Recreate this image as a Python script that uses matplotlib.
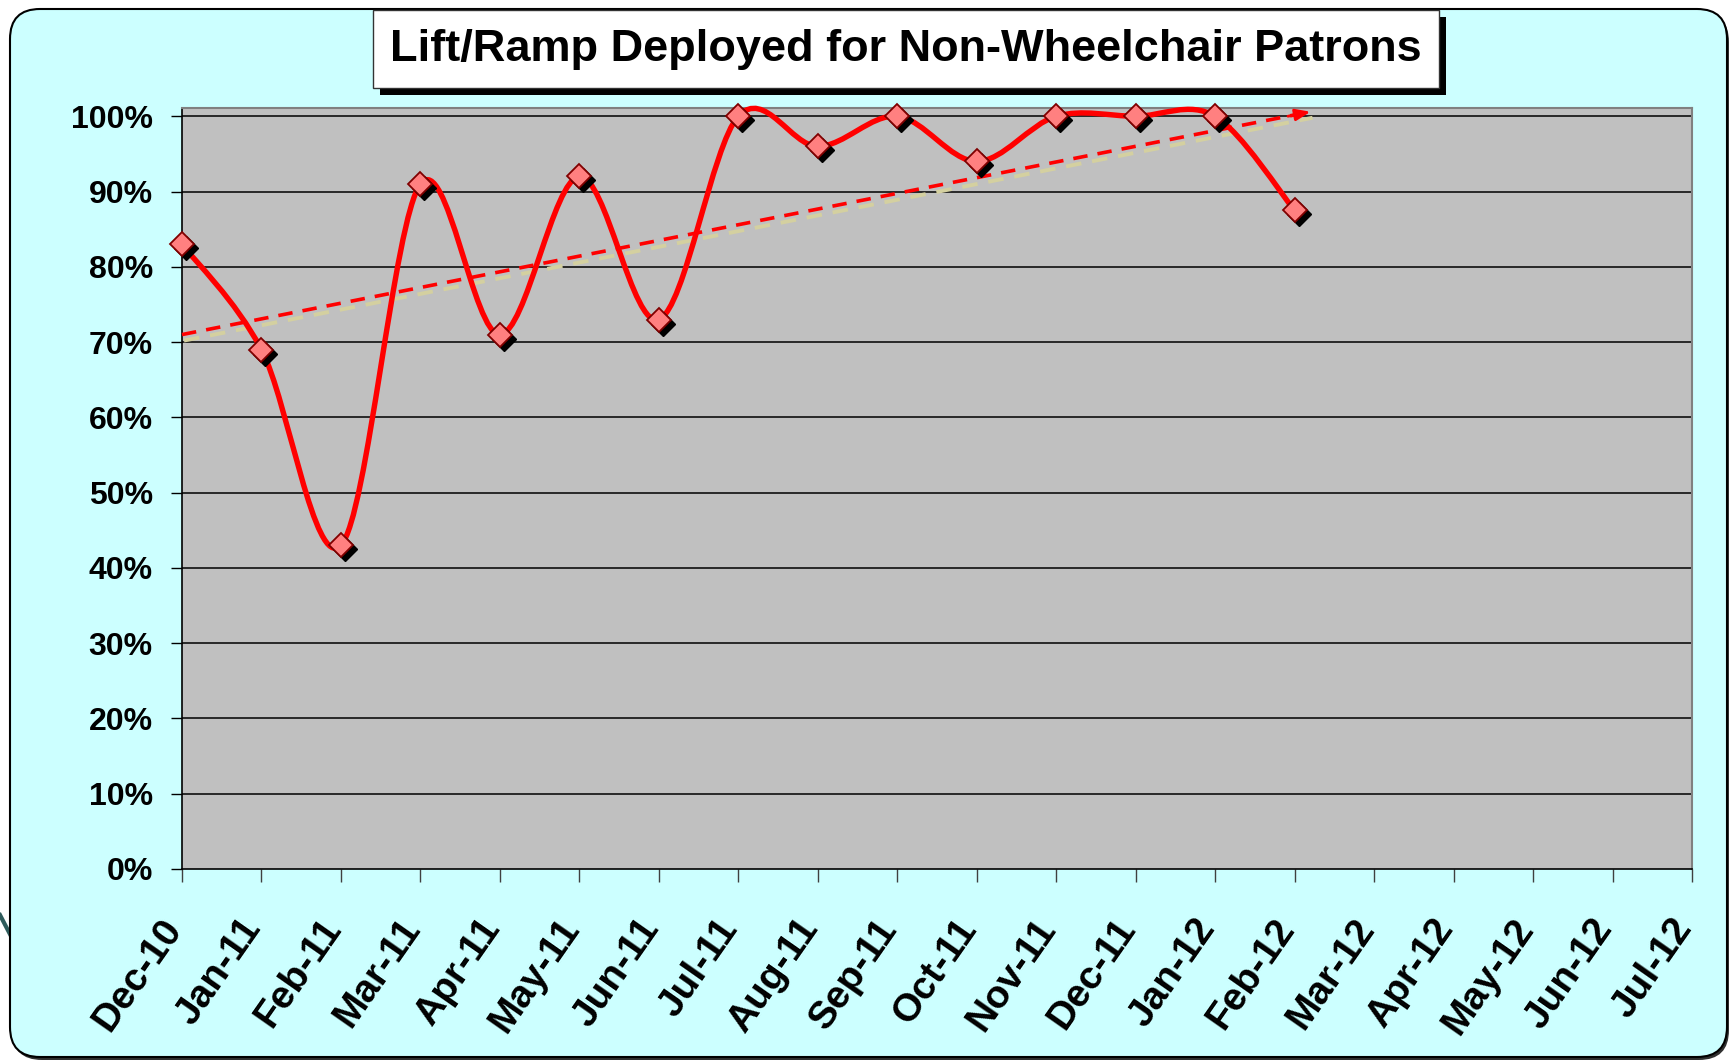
import numpy as np
import matplotlib
matplotlib.use("Agg")
import matplotlib.pyplot as plt
from matplotlib.path import Path
from matplotlib.patches import PathPatch, FancyBboxPatch, Rectangle
from matplotlib.lines import Line2D
import matplotlib.transforms as mtransforms

# ---- data ----
months = ["Dec-10", "Jan-11", "Feb-11", "Mar-11", "Apr-11", "May-11", "Jun-11",
          "Jul-11", "Aug-11", "Sep-11", "Oct-11", "Nov-11", "Dec-11", "Jan-12",
          "Feb-12", "Mar-12", "Apr-12", "May-12", "Jun-12", "Jul-12"]
pct_deployed = [83, 69, 43, 91, 71, 92, 73, 100, 96, 100, 94, 100, 100, 100, 87.5]
trend_pos = [0, 14.2]
trend_pct = [71, 100.6]
y_ticks = [0, 10, 20, 30, 40, 50, 60, 70, 80, 90, 100]
title = "Lift/Ramp Deployed for Non-Wheelchair Patrons"

FONT = ["Liberation Sans", "DejaVu Sans"]
W, H = 1729, 1061
fig = plt.figure(figsize=(W / 100, H / 100), dpi=100)
fig.patch.set_facecolor("white")
px = fig.dpi_scale_trans  # inches; 1 px = 0.01 in


def P(x, y_top):
    """pixel position measured from the top-left corner -> inches"""
    return x / 100, (H - y_top) / 100


# stray connector peeking from behind the panel
fig.add_artist(Line2D([0.0, 0.13], [(H - 915) / 100, (H - 940) / 100],
                      transform=px, color="#2f5c5c", lw=3, zorder=0))

# rounded cyan background panel with a soft shadow
shadow = FancyBboxPatch(P(12, 1060), 17.17, 10.48,
                        boxstyle="round,pad=0,rounding_size=0.3",
                        transform=px, facecolor="#303030", edgecolor="none", zorder=1)
panel = FancyBboxPatch(P(10, 1057), 17.17, 10.48,
                       boxstyle="round,pad=0,rounding_size=0.3",
                       transform=px, facecolor="#ccffff", edgecolor="black",
                       lw=1.5, zorder=2)
fig.add_artist(shadow)
fig.add_artist(panel)

# title box with drop shadow
tb_x, tb_top, tb_w, tb_h = 373, 10, 1066, 78
fig.add_artist(Rectangle(P(tb_x + 7, tb_top + tb_h + 7), tb_w / 100, tb_h / 100,
                         transform=px, facecolor="black", edgecolor="none", zorder=3))
fig.add_artist(Rectangle(P(tb_x, tb_top + tb_h), tb_w / 100, tb_h / 100,
                         transform=px, facecolor="white", edgecolor="#333333",
                         lw=1, zorder=4))
fig.text((tb_x + tb_w / 2) / W, 1 - (tb_top + tb_h / 2 + 1) / H, title,
         ha="center", va="center", fontsize=32.5, fontweight="bold",
         family=FONT, zorder=5)

# ---- plot area ----
ax = fig.add_axes([182 / W, 192 / H, 1510 / W, 761 / H])
ax.set_zorder(6)
ax.set_facecolor("#c0c0c0")
ax.set_xlim(0, len(months) - 1)
ax.set_ylim(0, 101.1)

ax.set_yticks(y_ticks)
ax.set_yticklabels([f"{v}%" for v in y_ticks])
ax.set_xticks(range(len(months)))
ax.set_xticklabels(months)
for v in y_ticks[1:]:
    ax.axhline(v, color="black", lw=1.1, zorder=1)

for s in ("top", "right"):
    ax.spines[s].set_color("#808080")
    ax.spines[s].set_linewidth(1.5)
for s in ("left", "bottom"):
    ax.spines[s].set_color("black")
    ax.spines[s].set_linewidth(1.2)

ax.tick_params(axis="y", length=8, width=1, color="black", pad=13,
               labelsize=23, direction="out")
ax.tick_params(axis="x", length=9, width=1, color="#404040", pad=22,
               labelsize=28, direction="out")
for lab in ax.get_yticklabels():
    lab.set_fontweight("bold")
    lab.set_family(FONT)
shift = mtransforms.ScaledTranslation(-22 / 100, 0, fig.dpi_scale_trans)
for lab in ax.get_xticklabels():
    lab.set_fontweight("bold")
    lab.set_family(FONT)
    lab.set_rotation(55)
    lab.set_ha("right")
    lab.set_va("top")
    lab.set_rotation_mode("anchor")
    lab.set_transform(lab.get_transform() + shift)

# ---- trend arrow (dashed, with pale shadow) ----
sh_tr = mtransforms.offset_copy(ax.transData, fig=fig, x=2, y=-6, units="dots")
ax.plot(trend_pos, trend_pct, color="#d4d0a0", lw=2.8, ls=(0, (4, 2.8)),
        transform=sh_tr, zorder=3, clip_on=False)
ax.plot(trend_pos, trend_pct, color="red", lw=2.6, ls=(0, (4, 2.8)),
        zorder=4, clip_on=False)
dx = trend_pos[1] - trend_pos[0]
dy = trend_pct[1] - trend_pct[0]
ax.annotate("", xy=(trend_pos[1], trend_pct[1]),
            xytext=(trend_pos[1] - 0.02 * dx, trend_pct[1] - 0.02 * dy),
            arrowprops=dict(arrowstyle="-|>,head_length=0.9,head_width=0.35",
                            color="red", lw=2, shrinkA=0, shrinkB=0),
            zorder=4, annotation_clip=False)

# ---- smoothed series line (cubic Bezier through every point) ----
xs = np.arange(len(pct_deployed), dtype=float)
ys = np.asarray(pct_deployed, dtype=float)
pts = np.column_stack([xs, ys])
verts = [pts[0]]
codes = [Path.MOVETO]
n = len(pts)
for i in range(n - 1):
    p0 = pts[i - 1] if i > 0 else pts[i]
    p1, p2 = pts[i], pts[i + 1]
    p3 = pts[i + 2] if i + 2 < n else pts[i + 1]
    verts += [p1 + (p2 - p0) / 6, p2 - (p3 - p1) / 6, p2]
    codes += [Path.CURVE4] * 3
ax.add_patch(PathPatch(Path(verts, codes), facecolor="none", edgecolor="red",
                       lw=3.9, zorder=5, clip_on=False, capstyle="round",
                       joinstyle="round"))

# ---- markers with black drop shadow ----
sh_mk = mtransforms.offset_copy(ax.transData, fig=fig, x=4, y=-4, units="dots")
ax.plot(xs, ys, ls="none", marker="D", ms=12.5, mfc="black", mec="black",
        transform=sh_mk, zorder=6, clip_on=False)
ax.plot(xs, ys, ls="none", marker="D", ms=12.5, mfc="#ff8080", mec="#800000",
        mew=1.3, zorder=7, clip_on=False)

fig.savefig("out.png", dpi=100, facecolor="white")
